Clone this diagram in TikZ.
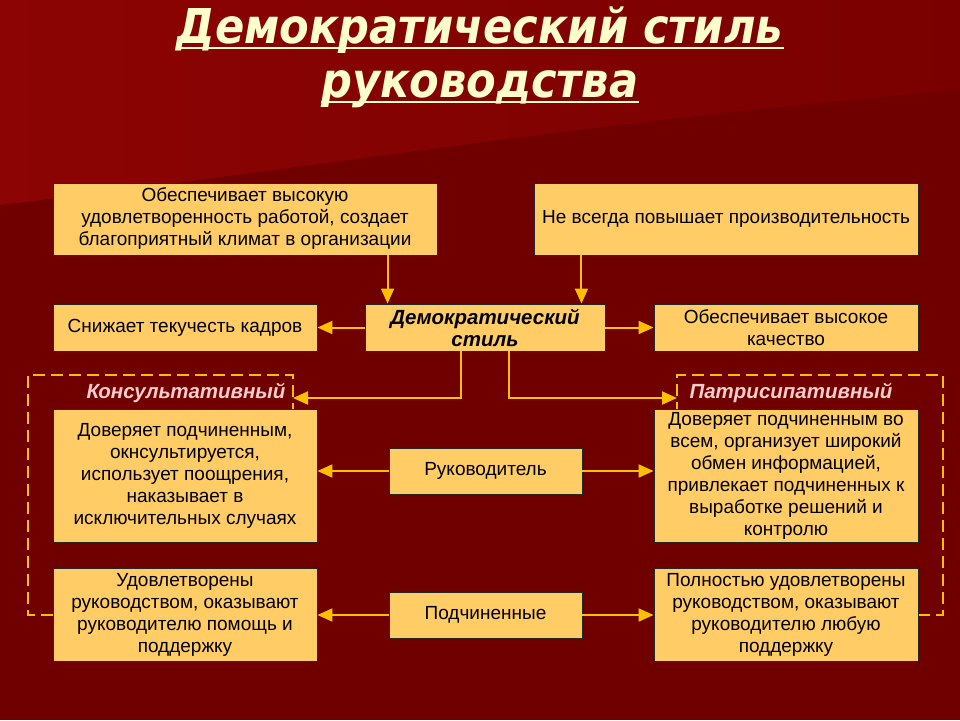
\documentclass[tikz,border=0pt]{standalone}
\usepackage{fontspec}
\setmainfont{Liberation Sans}
\newfontfamily\titlefont{DejaVu Sans Condensed}
\usetikzlibrary{arrows.meta}

\definecolor{bgdark}{RGB}{112,0,0}
\definecolor{bglight}{RGB}{140,4,4}
\definecolor{bgmid}{RGB}{122,0,0}
\definecolor{boxfill}{RGB}{255,204,102}
\definecolor{arrowgold}{RGB}{255,192,0}
\definecolor{titlecream}{RGB}{255,255,204}
\definecolor{labelpink}{RGB}{255,204,204}

\tikzset{
  infobox/.style={draw=black!85, fill=boxfill, line width=0.9pt, align=center,
    inner sep=1pt, font=\fontsize{19}{22}\selectfont},
  arr/.style={draw=arrowgold, line width=2pt, -{Triangle[length=15pt,width=13pt]}},
  frame/.style={draw=arrowgold, line width=2.2pt, dash pattern=on 12pt off 6pt},
  typelabel/.style={font=\fontsize{20.5}{22}\selectfont\bfseries\itshape, text=labelpink},
  headline/.style={font=\titlefont\fontsize{48}{50}\selectfont\bfseries\itshape,
    inner sep=0pt, anchor=base, text=titlecream},
}

\begin{document}
\begin{tikzpicture}[x=1pt,y=-1pt]
    \useasboundingbox (0,0) rectangle (960,720);
    % Background
    \fill[bgdark] (0,0) rectangle (960,720);
    \shade[left color=bglight, right color=bgmid]
        (0,0) -- (960,0) -- (960,90) .. controls (600,120) and (300,170) .. (0,205) -- cycle;
    % Title
    \node[headline] (title1) at (480,43) {Демократический стиль};
    \node[headline] (title2) at (480,97) {руководства};
    \draw[titlecream, line width=2.5pt] ([yshift=-5pt]title1.base west) -- ([yshift=-5pt]title1.base east);
    \draw[titlecream, line width=2.5pt] ([yshift=-5pt]title2.base west) -- ([yshift=-5pt]title2.base east);

    % Dashed frames
    \draw[frame] (53,615) -- (28,615) -- (28,375) -- (293,375) -- (293,410);
    \draw[frame] (918,615) -- (943,615) -- (943,375) -- (677,375) -- (677,410);
    \coordinate (konsin) at (293,398);
    \coordinate (patrin) at (677,398);
    \node[typelabel, anchor=east] (konslabel) at (289,393) {Консультативный};
    \node[typelabel] (patrlabel) at (791,393) {Патрисипативный};

    % Top row
    \node[infobox, minimum width=384, minimum height=72] (plus) at (245,219)
        {Обеспечивает высокую\\удовлетворенность работой, создает\\благоприятный климат в организации};
    \node[infobox, minimum width=384, minimum height=72] (minus) at (726,219)
        {Не всегда повышает производительность};

    % Middle row
    \node[infobox, minimum width=264, minimum height=47] (staff) at (185,327.5)
        {Снижает текучесть кадров};
    \node[infobox, minimum width=240, minimum height=47,
        font=\fontsize{20.5}{22}\selectfont\bfseries\itshape] (demo) at (485,327.5)
        {Демократический\\стиль};
    \node[infobox, minimum width=264, minimum height=47] (quality) at (786,327.5)
        {Обеспечивает высокое\\качество};

    % Leader row
    \node[infobox, minimum width=264, minimum height=133] (konslead) at (185,475.5)
        {Доверяет подчиненным,\\окнсультируется,\\использует поощрения,\\наказывает в\\исключительных случаях};
    \node[infobox, minimum width=193, minimum height=46] (leader) at (485.5,471)
        {Руководитель};
    \node[infobox, minimum width=264, minimum height=133] (patrlead) at (786,475.5)
        {Доверяет подчиненным во\\всем, организует широкий\\обмен информацией,\\привлекает подчиненных к\\выработке решений и\\контролю};

    % Subordinates row
    \node[infobox, minimum width=264, minimum height=93] (konssub) at (185,614.5)
        {Удовлетворены\\руководством, оказывают\\руководителю помощь и\\поддержку};
    \node[infobox, minimum width=193, minimum height=46] (subs) at (485.5,615)
        {Подчиненные};
    \node[infobox, minimum width=264, minimum height=93] (patrsub) at (786,614.5)
        {Полностью удовлетворены\\руководством, оказывают\\руководителю любую\\поддержку};

    % Arrows into the style box
    \coordinate (demoinL) at ([xshift=23pt]demo.north west);
    \coordinate (demoinR) at ([xshift=-24pt]demo.north east);
    \draw[arr] (plus.south -| demoinL) -- (demoinL);
    \draw[arr] (minus.south -| demoinR) -- (demoinR);
    \draw[arr] (demo.west) -- (staff.east);
    \draw[arr] (demo.east) -- (quality.west);
    % Arrows to the two types
    \coordinate (demooutL) at ([xshift=-24pt]demo.south);
    \coordinate (demooutR) at ([xshift=24pt]demo.south);
    \draw[arr] (demooutL) |- (konsin);
    \draw[arr] (demooutR) |- (patrin);
    % Leader and subordinates
    \draw[arr] (leader.west) -- (leader.west -| konslead.east);
    \draw[arr] (leader.east) -- (leader.east -| patrlead.west);
    \draw[arr] (subs.west) -- (subs.west -| konssub.east);
    \draw[arr] (subs.east) -- (subs.east -| patrsub.west);
\end{tikzpicture}
\end{document}
